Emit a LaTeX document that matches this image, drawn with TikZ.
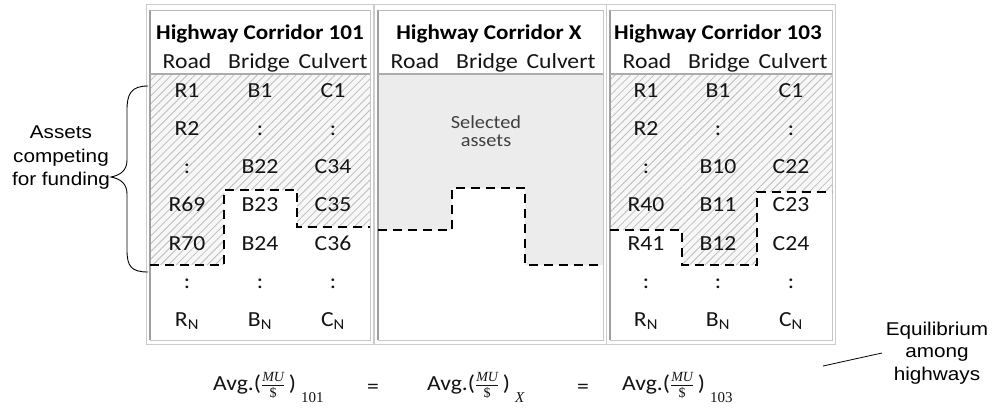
\documentclass[tikz,border=0pt]{standalone}
\usepackage{fontspec}
\setmainfont{Carlito}[FakeStretch=1.1]
\newfontfamily\labelfont{Liberation Sans}[FakeStretch=1.12]
\newfontfamily\ratiofont{Liberation Serif}
\usetikzlibrary{patterns.meta}

% average marginal utility per dollar, with a lowered subscript
\newcommand\avgratio[1]{Avg.($\frac{\mbox{\fontsize{14}{14}\ratiofont\itshape MU}}{\mbox{\fontsize{14}{14}\ratiofont\$}}$\,)\hspace{5pt}\raisebox{-12pt}{\fontsize{15}{15}\ratiofont#1}}

\begin{document}
\begin{tikzpicture}[x=1pt,y=-1pt,
  cell/.style={anchor=base,inner sep=0pt,text=black!92,font=\fontsize{21.5}{21.5}\selectfont},
  headtitle/.style={anchor=base,inner sep=0pt,text=black,font=\fontsize{21}{22}\selectfont\bfseries},
  note/.style={align=center,inner sep=0pt,text=black,font=\labelfont\fontsize{18.5}{23.5}\selectfont},
  hatch/.style={pattern={Lines[angle=45,distance=5.5pt,line width=0.8pt]},pattern color=gray!52},
  chosen/.style={fill=gray!15},
  cutline/.style={line width=2.8pt,dash pattern=on 9pt off 6pt},
  outerframe/.style={draw=gray!40,line width=0.9pt},
  darkedge/.style={draw=gray!75,line width=1.4pt},
  lightedge/.style={draw=gray!45,line width=1pt},
  headrule/.style={draw=gray!65,line width=1.2pt},
]
\useasboundingbox[fill=white] (0,0) rectangle (992,410);

% ---- funded / selected regions ----
\fill[fill=gray!6] (150,74) -- (150,265) -- (224,265) -- (224,190) -- (297,190) -- (297,227) -- (370,227) -- (370,74) -- cycle;
\fill[hatch] (150,74) -- (150,265) -- (224,265) -- (224,190) -- (297,190) -- (297,227) -- (370,227) -- (370,74) -- cycle;
\fill[chosen] (378,74) -- (378,230) -- (452,230) -- (452,188) -- (525,188) -- (525,265) -- (603,265) -- (603,74) -- cycle;
\fill[fill=gray!6] (610,74) -- (610,230) -- (682,230) -- (682,265) -- (757,265) -- (757,192) -- (832,192) -- (832,74) -- cycle;
\fill[hatch] (610,74) -- (610,230) -- (682,230) -- (682,265) -- (757,265) -- (757,192) -- (832,192) -- (832,74) -- cycle;

% ---- panel frames ----
\foreach \l/\r [count=\k] in {150/370,378/603,610/832}{
  \draw[outerframe] (\l-4,4) rectangle (\r+3,344);
  \draw[lightedge] (\r,10) -- (\r,340) -- (\l,340);
  \draw[darkedge] (\l,340) -- (\l,10);
  \draw[draw=gray!55,line width=1pt] (\l,10) -- (\r,10);
  \draw[headrule] (\l,74) -- (\r,74);
}

% ---- headers ----
\node[headtitle] (t1) at (260,39) {Highway Corridor 101};
\node[headtitle] (t2) at (489,39) {Highway Corridor X};
\node[headtitle] (t3) at (718,39) {Highway Corridor 103};
\foreach \x/\p in {150/1,378/2,610/3}{
  \node[cell] (road\p) at (\x+37,68) {Road};
  \node[cell] (bridge\p) at (\x+109,68) {Bridge};
  \node[cell] (culvert\p) at (\x+183,68) {Culvert};
}

% ---- asset rows ----
\foreach \a/\b/\c [count=\i] in {R1/B1/C1, R2/:/:, :/B22/C34, R69/B23/C35, R70/B24/C36, :/:/:, {R\textsubscript{N}}/{B\textsubscript{N}}/{C\textsubscript{N}}}{
  \pgfmathsetmacro\yy{97+(\i-1)*38.3}
  \node[cell] (a\i) at (187,\yy) {\a};
  \node[cell] (b\i) at (260,\yy) {\b};
  \node[cell] (c\i) at (333,\yy) {\c};
}
\foreach \a/\b/\c [count=\i] in {R1/B1/C1, R2/:/:, :/B10/C22, R40/B11/C23, R41/B12/C24, :/:/:, {R\textsubscript{N}}/{B\textsubscript{N}}/{C\textsubscript{N}}}{
  \pgfmathsetmacro\yy{97+(\i-1)*38.3}
  \node[cell] (d\i) at (646,\yy) {\a};
  \node[cell] (e\i) at (718,\yy) {\b};
  \node[cell] (f\i) at (791,\yy) {\c};
}
\node[cell,anchor=center,align=center,text=black!75,font=\fontsize{18.5}{18}\selectfont] (sel) at (486,131) {Selected\\assets};

% ---- funding cut-off lines ----
\draw[cutline] (150,265) -- (224,265) -- (224,190) -- (297,190) -- (297,227) -- (370,227);
\draw[cutline] (378,230) -- (452,230) -- (452,188) -- (525,188) -- (525,265) -- (603,265);
\draw[cutline] (610,230) -- (682,230) -- (682,265) -- (757,265) -- (757,192) -- (832,192);

% ---- brace and side notes ----
\draw[line width=0.9pt] (148,86) .. controls (131,86) and (127,94) .. (127,110) -- (127,160)
  .. controls (127,170) and (121,175) .. (111,177) .. controls (121,179) and (127,184) .. (127,194)
  -- (127,250) .. controls (127,266) and (131,272) .. (148,272);
\node[note] (compete) at (61,158) {Assets\\competing\\for funding};
\node[note,font=\labelfont\fontsize{18.5}{22.5}\selectfont] (equil) at (937,353) {Equilibrium\\among\\highways};
\coordinate (eqtip) at (823,366);
\coordinate (eqstart) at (882,353);
\draw[line width=0.8pt] (eqstart) -- (eqtip);

% ---- equilibrium condition ----
\node[cell,anchor=base west] (avg1) at (213,390) {\avgratio{101}};
\node[cell] (eqa) at (373,393) {=};
\node[cell,anchor=base west] (avg2) at (427,390) {\avgratio{\itshape X}};
\node[cell] (eqb) at (583,393) {=};
\node[cell,anchor=base west] (avg3) at (622,390) {\avgratio{103}};
\end{tikzpicture}
\end{document}
